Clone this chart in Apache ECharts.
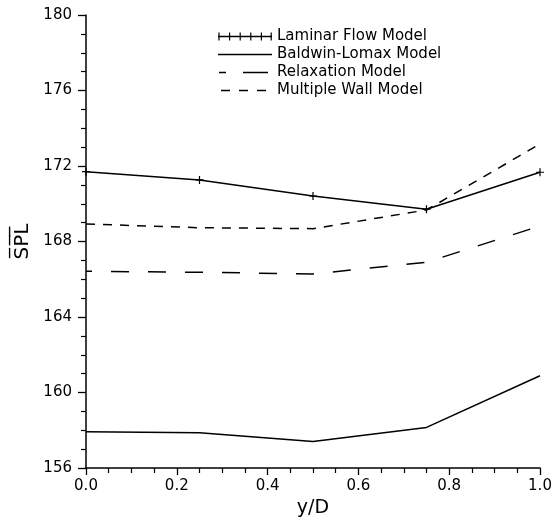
<!DOCTYPE html>
<html>
<head>
<meta charset="utf-8">
<script src="https://cdn.jsdelivr.net/npm/echarts@6/dist/echarts.min.js"></script>
<style>
  html, body { margin: 0; padding: 0; background: #fff; }
  #chart { width: 556px; height: 523px; }
</style>
</head>
<body>
<div id="chart"></div>
<script>
// Radial position across the duct
const yOverD = [0, 0.25, 0.5, 0.75, 1.0];

// Mean sound pressure level for each turbulence model
const laminarFlow   = [171.70, 171.26, 170.41, 169.71, 171.67];
const baldwinLomax  = [157.92, 157.87, 157.40, 158.15, 160.89];
const relaxation    = [166.42, 166.37, 166.28, 166.90, 168.82];
const multipleWall  = [168.93, 168.73, 168.68, 169.67, 173.17];

const seriesNames = [
  'Laminar Flow Model',
  'Baldwin-Lomax Model',
  'Relaxation Model',
  'Multiple Wall Model'
];

const FONT = 'DejaVu Sans';

function pairs(xs, ys) {
  return xs.map((x, i) => [x, ys[i]]);
}

// thin filled "+" used as the point marker
const plusSymbol = 'path://M3.4,0H4.6V3.4H8V4.6H4.6V8H3.4V4.6H0V3.4H3.4Z';

// Legend swatches, all drawn in a 54 x 10 box (the two zero-area corners
// pin the bounding box so the strokes keep their thickness).
const BOX = 'M0,0L0.001,0Z M54,10L53.999,10Z ';
const iconCrossLine = 'path://' + BOX + 'M0,4.3H54V5.7H0Z' +
  'M0.4,1H1.6V9H0.4Z M11,1H12.2V9H11Z M21.6,1H22.8V9H21.6Z' +
  'M32.2,1H33.4V9H32.2Z M42.8,1H44V9H42.8Z M52.6,1H53.8V9H52.6Z';
const iconSolid = 'path://' + BOX + 'M0,4.3H54V5.7H0Z';
const iconLongShort = 'path://' + BOX + 'M1,4.3H8V5.7H1Z M25,4.3H50V5.7H25Z';
const iconDashed = 'path://' + BOX + 'M3,4.3H12V5.7H3Z M21,4.3H30V5.7H21Z M39,4.3H48V5.7H39Z';

const chart = echarts.init(document.getElementById('chart'), null, { renderer: 'canvas' });

chart.setOption({
  backgroundColor: '#ffffff',
  animation: false,
  grid: { left: 86, right: 16, top: 15, bottom: 55, containLabel: false },
  legend: {
    orient: 'vertical',
    left: 213,
    top: 24,
    itemWidth: 54,
    itemHeight: 10,
    itemGap: 3,
    symbolKeepAspect: false,
    itemStyle: { color: '#000', borderWidth: 0 },
    textStyle: { fontFamily: FONT, fontSize: 15, color: '#000', lineHeight: 15 },
    data: [
      { name: seriesNames[0], icon: iconCrossLine },
      { name: seriesNames[1], icon: iconSolid },
      { name: seriesNames[2], icon: iconLongShort },
      { name: seriesNames[3], icon: iconDashed }
    ]
  },
  xAxis: {
    type: 'value',
    min: 0,
    max: 1,
    interval: 0.2,
    name: 'y/D',
    nameLocation: 'middle',
    nameGap: 26,
    nameTextStyle: { fontFamily: FONT, fontSize: 19, color: '#000' },
    axisLine: { show: true, onZero: false, lineStyle: { color: '#000', width: 1.5 } },
    axisTick: { show: true, inside: false, length: 7, lineStyle: { color: '#000', width: 1.3 } },
    minorTick: { show: true, splitNumber: 4, length: 5, lineStyle: { color: '#000', width: 1.2 } },
    splitLine: { show: false },
    axisLabel: {
      margin: 11,
      fontFamily: FONT,
      fontSize: 15,
      color: '#000',
      formatter: v => v.toFixed(1)
    }
  },
  yAxis: {
    type: 'value',
    min: 156,
    max: 180,
    interval: 4,
    name: 'S\u0305P\u0305L\u0305',
    nameLocation: 'middle',
    nameRotate: 90,
    nameGap: 50,
    nameTextStyle: { fontFamily: FONT, fontSize: 20, color: '#000' },
    axisLine: { show: true, onZero: false, lineStyle: { color: '#000', width: 1.5 } },
    axisTick: { show: true, inside: false, length: 8, lineStyle: { color: '#000', width: 1.3 } },
    minorTick: { show: true, splitNumber: 4, length: 5, lineStyle: { color: '#000', width: 1.2 } },
    splitLine: { show: false },
    axisLabel: { margin: 14, fontFamily: FONT, fontSize: 15, color: '#000' }
  },
  series: [
    {
      name: seriesNames[0],
      type: 'line',
      data: pairs(yOverD, laminarFlow),
      symbol: plusSymbol,
      symbolSize: 8,
      showSymbol: true,
      z: 5,
      itemStyle: { color: '#000', borderWidth: 0 },
      lineStyle: { color: '#000', width: 1.5, type: 'solid' }
    },
    {
      name: seriesNames[1],
      type: 'line',
      data: pairs(yOverD, baldwinLomax),
      symbol: 'none',
      itemStyle: { color: '#000' },
      lineStyle: { color: '#000', width: 1.5, type: 'solid' }
    },
    {
      name: seriesNames[2],
      type: 'line',
      data: pairs(yOverD, relaxation),
      symbol: 'none',
      itemStyle: { color: '#000' },
      lineStyle: { color: '#000', width: 1.5, type: [18, 19], dashOffset: 12 }
    },
    {
      name: seriesNames[3],
      type: 'line',
      data: pairs(yOverD, multipleWall),
      symbol: 'none',
      itemStyle: { color: '#000' },
      lineStyle: { color: '#000', width: 1.5, type: [9, 8], dashOffset: 0 }
    }
  ]
});
</script>
</body>
</html>
